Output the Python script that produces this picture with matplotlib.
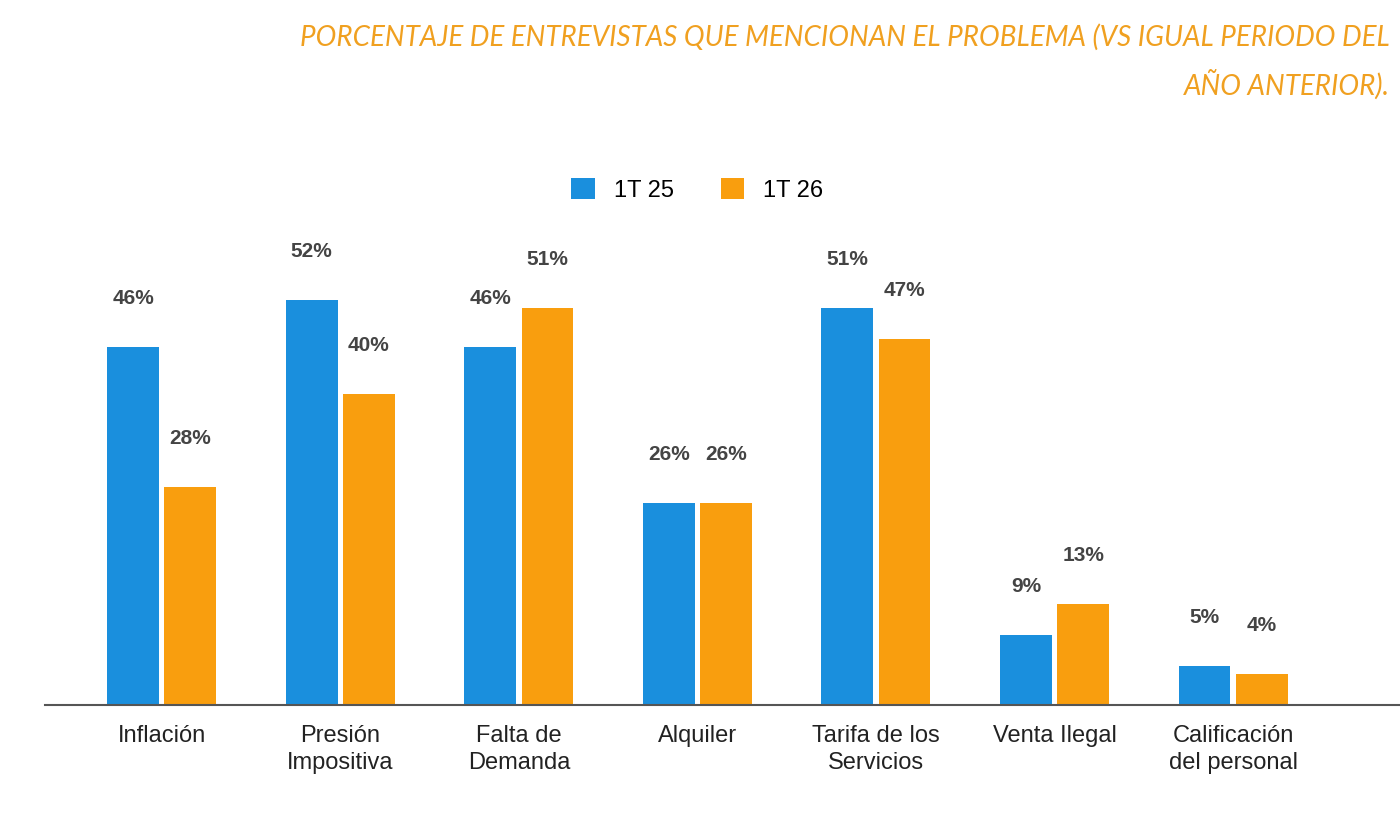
import matplotlib
matplotlib.use("Agg")
import matplotlib.pyplot as plt
import numpy as np

categories = ["Inflación", "Presión\nImpositiva", "Falta de\nDemanda", "Alquiler",
              "Tarifa de los\nServicios", "Venta Ilegal", "Calificación\ndel personal"]
s25 = [46, 52, 46, 26, 51, 9, 5]
s26 = [28, 40, 51, 26, 47, 13, 4]
series_names = ["1T 25", "1T 26"]

blue, orange = "#1A8FDD", "#F99E0E"
fig = plt.figure(figsize=(14, 8.19), dpi=100)
ax = fig.add_axes([0.032, 0.139, 0.968, 0.58])
x = np.arange(len(categories))
w = 0.29
off = 0.16
b1 = ax.bar(x - off, s25, w, color=blue, label=series_names[0])
b2 = ax.bar(x + off, s26, w, color=orange, label=series_names[1])
for bars, vals in ((b1, s25), (b2, s26)):
    for r, v in zip(bars, vals):
        ax.text(r.get_x() + r.get_width() / 2, v + 6.2, f"{v}%", ha="center", va="center",
                fontsize=15, fontweight="bold", color="#444444", family="Liberation Sans")
ax.set_xlim(-0.655, 6.935)
ax.set_ylim(0, 61)
ax.set_xticks(x)
ax.set_xticklabels(categories, fontsize=17, color="#222222", family="Liberation Sans", linespacing=1.3)
ax.tick_params(axis="x", length=0, pad=14)
ax.set_yticks([])
for s in ("top", "right", "left"):
    ax.spines[s].set_visible(False)
ax.spines["bottom"].set_color("#555555")
ax.spines["bottom"].set_linewidth(1.5)
leg = fig.legend(handles=[b1, b2], loc="center", bbox_to_anchor=(0.498, 0.768), ncol=2, frameon=False,
                 prop={"family": "Liberation Sans", "size": 17}, handlelength=1.0, handleheight=1.0,
                 columnspacing=2.0, handletextpad=0.8)
title_kw = dict(ha="right", va="center", fontsize=20, style="italic", color="#F0A020", family="Lato")
fig.text(0.993, 1 - 37 / 819, "PORCENTAJE DE ENTREVISTAS QUE MENCIONAN EL PROBLEMA (VS IGUAL PERIODO DEL", **title_kw)
fig.text(0.993, 1 - 85 / 819, "AÑO ANTERIOR).", **title_kw)
fig.savefig("out.png", dpi=100)
